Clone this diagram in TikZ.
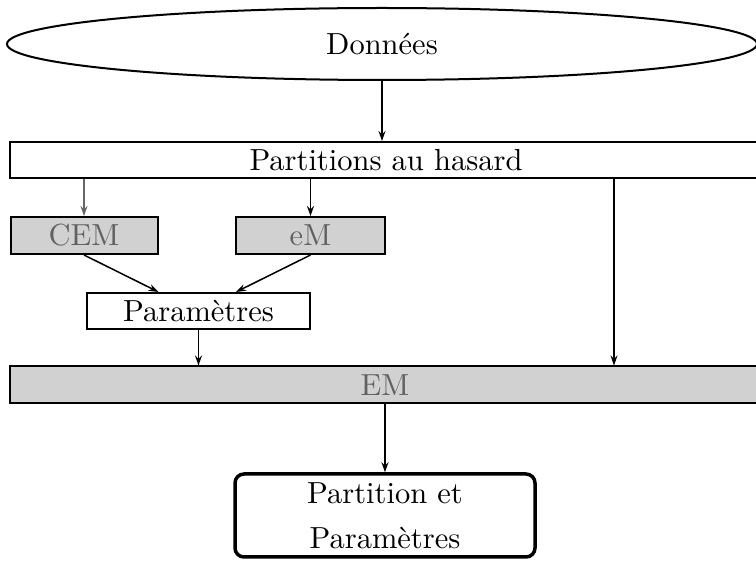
\documentclass[tikz,border=0pt]{standalone}
\usetikzlibrary{arrows.meta,shapes.geometric,calc}
\newcommand\bigtxt[1]{\scalebox{3.05}{#1}}
\begin{document}
\begin{tikzpicture}[x=1pt,y=-1pt,
  box/.style={draw, line width=2pt, rectangle, inner sep=0pt},
  graybox/.style={box, fill=black!18, text=black!62},
  arr/.style={line width=1.5pt, -{Stealth[length=10pt,width=7pt]}},
  thinarr/.style={arr, line width=1.1pt, draw=black!60}]
\clip (0,0) rectangle (756,561);
\fill[white] (0,0) rectangle (756,561);
\node[ellipse, draw, line width=2pt, minimum width=750pt, minimum height=72pt, inner sep=0pt] (don) at (382,44) {\bigtxt{Données}};
\node[box, minimum width=752pt, minimum height=36pt] (part) at (386,160) {\bigtxt{Partitions au hasard}};
\node[graybox, minimum width=147pt, minimum height=37pt] (cem) at (84,235.5) {\bigtxt{CEM}};
\node[graybox, minimum width=149pt, minimum height=37pt] (em) at (310.5,235.5) {\bigtxt{eM}};
\node[box, minimum width=223pt, minimum height=36pt] (param) at (198.5,311) {\bigtxt{Paramètres}};
\node[graybox, minimum width=750pt, minimum height=37pt] (EM) at (385,385) {\bigtxt{EM}};
\node[box, line width=3.5pt, rounded corners=9pt, minimum width=300pt, minimum height=83pt, align=center] (fin) at (385,515.5)
  {\bigtxt{Partition et}\\[22pt]\bigtxt{Paramètres}};
\coordinate (c614) at (614,0);
\draw[arr] (don.south) -- (don.south |- part.north);
\draw[thinarr] (cem.north |- part.south) -- (cem.north);
\draw[arr] (em.north |- part.south) -- (em.north);
\draw[arr] (part.south -| c614) -- (EM.north -| c614);
\draw[arr] (cem.south) -- ($(param.north)+(-40,0)$);
\draw[arr] (em.south) -- ($(param.north)+(37.5,0)$);
\draw[arr] (param.south) -- (EM.north -| param.south);
\draw[arr] (fin.north |- EM.south) -- (fin.north);
\end{tikzpicture}
\end{document}
